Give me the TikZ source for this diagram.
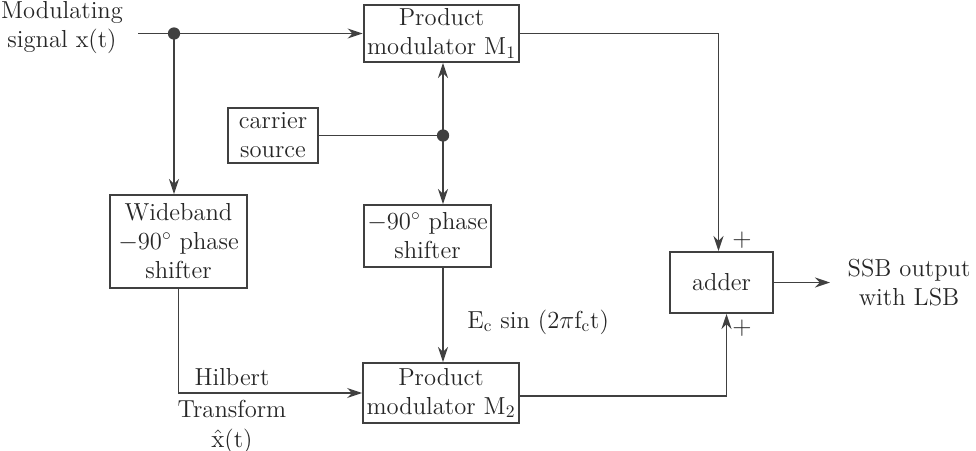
\documentclass[tikz,border=0pt]{standalone}
\usepackage{amsmath}
\usepackage{tikz}
\usetikzlibrary{arrows.meta}

\begin{document}
\begin{tikzpicture}[x=0.02cm, y=-0.02cm,
  font=\fontsize{14}{16.5}\selectfont,
  line width=1.1pt, draw=black!75, text=black!85,
  >={Stealth[length=3mm, width=2mm]},
  blk/.style={draw, align=center, inner sep=2pt},
  lbl/.style={align=center, inner sep=0pt}]
% Marges de la figure
\useasboundingbox (0,0) rectangle (976,450);

% Blocs
\node[blk, minimum width=3.06cm, minimum height=1.14cm] (mod1) at (441.5,33.5) {Product\\modulator M$_1$};
\node[blk, minimum width=1.8cm, minimum height=1.1cm] (carrier) at (273,135.5) {carrier\\source};
\node[blk, minimum width=2.14cm, minimum height=1.24cm] (shift) at (427.5,236) {$-$90$^\circ$ phase\\shifter};
\node[blk, minimum width=2.74cm, minimum height=1.86cm] (wide) at (178.5,241.5) {Wideband\\$-$90$^\circ$ phase\\shifter};
\node[blk, minimum width=2.76cm, minimum height=1.2cm] (mod2) at (441,393) {Product\\modulator M$_2$};
\node[blk, minimum width=2.06cm, minimum height=1.22cm] (adder) at (721.5,282.5) {adder};

% Textes
\node[lbl] (inlbl) at (62,28) {Modulating\\signal x(t)};
\node[lbl] (outlbl) at (909,283) {SSB output\\with LSB};
\node[lbl] (hilb) at (232,377) {Hilbert};
\node[lbl, anchor=north, font=\fontsize{14}{17}\selectfont] (trans) at (232,399) {Transform\\$\hat{\mathrm{x}}$(t)};
\node[lbl] (plus1) at (742,240) {$+$};
\node[lbl] (plus2) at (742,328) {$+$};

% Points de jonction
\coordinate (inp) at (138,33.5);
\coordinate (j1) at (174,33.5);
\coordinate (j2) at (443,135.5);
\coordinate (outp) at (830,282.5);
\fill[black!75] (j1) circle (3.5pt);
\fill[black!75] (j2) circle (3.5pt);

% Liaisons
\draw[->] (inp) -- (mod1.west);
\draw[->] (j1) -- (j1 |- wide.north);
\draw (carrier.east) -- (j2);
\draw[->] (j2) -- (j2 |- mod1.south);
\draw[->] (j2) -- (j2 |- shift.north);
\draw[->] (j2 |- shift.south) -- (j2 |- mod2.north)
  node[midway, right, xshift=10pt, yshift=-4pt] {E$_{\text{c}}$ sin (2$\pi$f$_{\text{c}}$t)};
\draw[->] (wide.south) |- (mod2.west);
\draw[->] (mod1.east) -| ([xshift=-0.06cm]adder.north);
\draw[->] ([yshift=-0.06cm]mod2.east) -| ([xshift=0.1cm]adder.south);
\draw[->] (adder.east) -- (outp);

\end{tikzpicture}
\end{document}
